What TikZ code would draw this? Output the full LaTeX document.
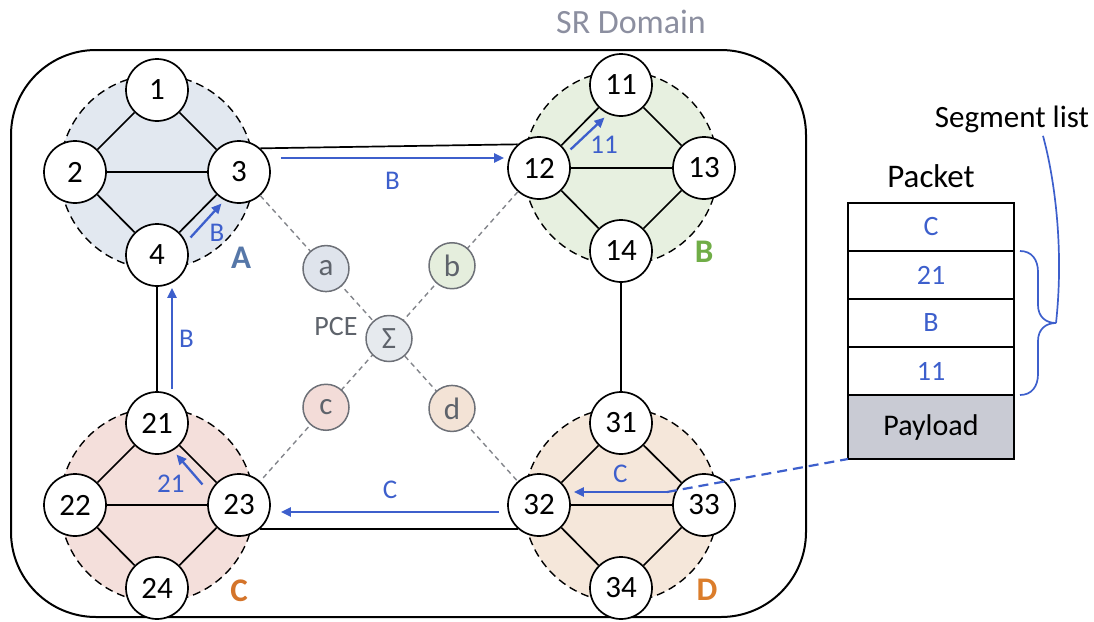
\documentclass[tikz,border=0pt]{standalone}
\usepackage{fontspec}
\setmainfont{Carlito}
\usetikzlibrary{positioning,calc,arrows.meta}

\begin{document}
\begin{tikzpicture}[x=1pt,y=-1pt,
    router/.style={circle,draw,fill=white,line width=1.7pt,minimum size=62pt,inner sep=0pt,font=\fontsize{31}{31}\selectfont},
    area/.style={circle,draw,line width=1.4pt,dash pattern=on 8pt off 5pt,minimum size=194pt},
    link/.style={line width=1.7pt},
    pce/.style={circle,draw=pcegray,line width=1.5pt,minimum size=46pt,inner sep=0pt,text=pcetext,font=\fontsize{31}{31}\selectfont},
    ctrl/.style={draw=pcegray!85,line width=1.4pt,dash pattern=on 5pt off 4pt},
    route/.style={draw=pathblue,line width=2.3pt,-{Triangle[length=10pt,width=9pt]}},
    sid/.style={text=pathblue,inner sep=1pt,font=\fontsize{27}{27}\selectfont},
    domlbl/.style={font=\fontsize{33}{33}\selectfont\bfseries,anchor=center},
    cell/.style={draw,line width=1.7pt,minimum width=166pt,minimum height=48pt,inner sep=0pt,outer sep=0pt,text=pathblue,font=\fontsize{28}{28}\selectfont}]
    \definecolor{pathblue}{HTML}{3D5FCC}
    \definecolor{domaingray}{HTML}{8C8FA0}
    \definecolor{pcegray}{HTML}{6D7077}
    \definecolor{pcetext}{HTML}{5E636B}
    \definecolor{areaA}{HTML}{E2E8F0}
    \definecolor{areaB}{HTML}{E7F0E0}
    \definecolor{areaC}{HTML}{F4DFDB}
    \definecolor{areaD}{HTML}{F5E7DA}
    \definecolor{pceA}{HTML}{DFE4EC}
    \definecolor{pceB}{HTML}{E5EEDD}
    \definecolor{pceC}{HTML}{F3DCD8}
    \definecolor{pceD}{HTML}{F3E3D6}
    \definecolor{pceS}{HTML}{E6EAEE}
    \definecolor{labA}{HTML}{5677A8}
    \definecolor{labB}{HTML}{70AD47}
    \definecolor{labC}{HTML}{D4742A}
    \definecolor{labD}{HTML}{DB7D2B}
    \definecolor{payloadgray}{HTML}{C9CBD4}

    \useasboundingbox (0,0) rectangle (1094,621);

    % SR domain
    \draw[line width=2pt, rounded corners=85pt] (11,50) rectangle (806,617);
    \node[text=domaingray, font=\fontsize{34}{34}\selectfont, anchor=base] (domain) at (631,33) {SR Domain};

    % the four areas
    \node[area, fill=areaA] (areaA) at (157,172) {};
    \node[area, fill=areaB] (areaB) at (621,168) {};
    \node[area, fill=areaC] (areaC) at (157,505) {};
    \node[area, fill=areaD] (areaD) at (621,505) {};
    \node[domlbl, text=labA] (labA) at (241,258) {A};
    \node[domlbl, text=labB] (labB) at (704,252) {B};
    \node[domlbl, text=labC] (labC) at (239,591) {C};
    \node[domlbl, text=labD] (labD) at (707,590) {D};

    % routers
    \node[router] (n1) at (157,90) {1};
    \node[router] (n2) at (75,172) {2};
    \node[router] (n3) at (239,172) {3};
    \node[router] (n4) at (157,255) {4};

    \node[router] (n11) at (621,85) {11};
    \node[router] (n12) at (539,168) {12};
    \node[router] (n13) at (704,168) {13};
    \node[router] (n14) at (621,251) {14};

    \node[router] (n21) at (157,423) {21};
    \node[router] (n22) at (75,505) {22};
    \node[router] (n23) at (239,505) {23};
    \node[router] (n24) at (157,588) {24};

    \node[router] (n31) at (621,423) {31};
    \node[router] (n32) at (539,505) {32};
    \node[router] (n33) at (704,505) {33};
    \node[router] (n34) at (621,588) {34};

    % links inside the areas
    \draw[link] (n1) -- (n2) (n1) -- (n3) (n2) -- (n3) (n2) -- (n4) (n3) -- (n4);
    \draw[link] (n11) -- (n12) (n11) -- (n13) (n12) -- (n13) (n12) -- (n14) (n13) -- (n14);
    \draw[link] (n21) -- (n22) (n21) -- (n23) (n22) -- (n23) (n22) -- (n24) (n23) -- (n24);
    \draw[link] (n31) -- (n32) (n31) -- (n33) (n32) -- (n33) (n32) -- (n34) (n33) -- (n34);

    % links between the areas
    \draw[link] (n3.48) -- (n12.132);
    \draw[link] (n23.-48) -- (n32.-132);
    \draw[link] (n4) -- (n21);
    \draw[link] (n14) -- (n31);

    % PCE and its sessions
    \draw[ctrl] (n3) -- (n32);
    \draw[ctrl] (n12) -- (n23);
    \node[pce, fill=pceA] (a) at ($(n3)!0.29!(n32)$) {a};
    \node[pce, fill=pceS] (sigma) at ($(n3)!0.5!(n32)$) {Σ};
    \node[pce, fill=pceD] (d) at ($(n3)!0.71!(n32)$) {d};
    \node[pce, fill=pceB] (b) at ($(n12)!0.29!(n23)$) {b};
    \node[pce, fill=pceC] (c) at ($(n12)!0.71!(n23)$) {c};
    \node[text=pcetext, font=\fontsize{28}{28}\selectfont] (pcelbl) at (336,327) {PCE};

    % path of the packet
    \coordinate (entry) at (667,492);
    \draw[route] (entry) -- ([xshift=3pt,yshift=13pt]n32.east) node[sid,midway,above=7pt] {C};
    \draw[route] ([xshift=-8pt,yshift=-7pt]n32.west) -- ([xshift=10pt,yshift=-7pt]n23.east) node[sid,midway,above=11pt] {C};
    \draw[route] ([xshift=-14pt,yshift=-2pt]n23.135) -- ([xshift=-3pt,yshift=-9pt]n21.-45) node[sid,midway,below left=4pt] {21};
    \draw[route] ([xshift=15pt,yshift=2pt]n21.north) -- ([xshift=15pt,yshift=-1pt]n4.south) node[sid,midway,right=5pt] {B};
    \draw[route] ([xshift=11pt,yshift=-5pt]n4.45) -- ([xshift=5pt,yshift=-9pt]n3.225) node[sid,midway,below right=2pt] {B};
    \draw[route] ([xshift=10pt,yshift=14pt]n3.east) -- ([xshift=-3pt,yshift=10pt]n12.west) node[sid,midway,below=12pt] {B};
    \draw[route] ([xshift=9pt,yshift=-4pt]n12.45) -- ([xshift=6pt,yshift=-10pt]n11.225) node[sid,midway,below right=1pt] {11};

    % packet with its segment list
    \node[cell] (segC) at (931,227) {C};
    \node[cell, below=0pt of segC] (seg21) {21};
    \node[cell, below=0pt of seg21] (segB) {B};
    \node[cell, below=0pt of segB] (seg11) {11};
    \node[cell, below=0pt of seg11, minimum height=64pt, fill=payloadgray, text=black, font=\fontsize{30}{30}\selectfont] (payload) {Payload};
    \node[font=\fontsize{33}{33}\selectfont, inner sep=2pt, above=13pt of segC] (packetlbl) {Packet};
    \node[font=\fontsize{31}{31}\selectfont, anchor=base] (seglist) at (1012,127) {Segment list};

    \draw[pathblue, line width=2.2pt, dash pattern=on 10pt off 6pt] (entry) -- (payload.south west);

    % brace over the segments
    \coordinate (bt) at ([xshift=6pt]seg21.north east);
    \coordinate (tip) at ($(seg21.north east)!0.5!(seg11.south east) + (42,0)$);
    \draw[pathblue, line width=1.7pt] (bt) .. controls +(12,0) and +(0,-12) .. ++(18,21) -- ++(0,33)
        .. controls +(0,12) and +(-10,0) .. ++(18,18)
        .. controls +(-10,0) and +(0,-12) .. ++(-18,18) -- ++(0,33)
        .. controls +(0,12) and +(12,0) .. ++(-18,21);
    \draw[pathblue, line width=1.7pt] (tip) .. controls (1064,250) and (1055,180) .. ([xshift=31pt]seglist.south);
\end{tikzpicture}
\end{document}
